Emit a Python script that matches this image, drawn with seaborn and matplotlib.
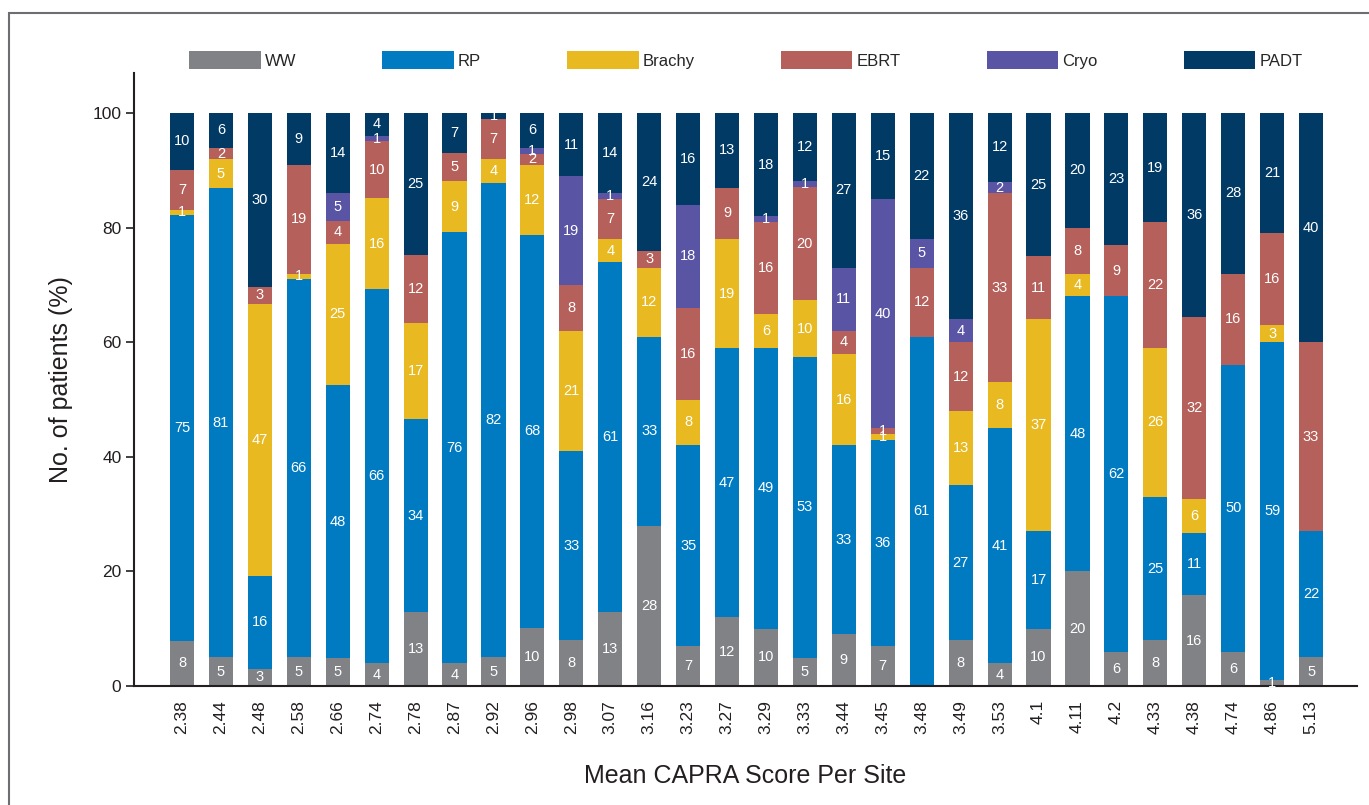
import matplotlib
matplotlib.use("Agg")
import matplotlib.pyplot as plt
from matplotlib.patches import Rectangle
import seaborn as sns
import numpy as np

# mean CAPRA score per site (x categories)
scores = ["2.38", "2.44", "2.48", "2.58", "2.66", "2.74", "2.78", "2.87", "2.92", "2.96",
          "2.98", "3.07", "3.16", "3.23", "3.27", "3.29", "3.33", "3.44", "3.45", "3.48",
          "3.49", "3.53", "4.1", "4.11", "4.2", "4.33", "4.38", "4.74", "4.86", "5.13"]

# percent of patients per treatment
ww     = [8, 5, 3, 5, 5, 4, 13, 4, 5, 10, 8, 13, 28, 7, 12, 10, 5, 9, 7, 0, 8, 4, 10, 20, 6, 8, 16, 6, 1, 5]
rp     = [75, 81, 16, 66, 48, 66, 34, 76, 82, 68, 33, 61, 33, 35, 47, 49, 53, 33, 36, 61, 27, 41, 17, 48, 62, 25, 11, 50, 59, 22]
brachy = [1, 5, 47, 1, 25, 16, 17, 9, 4, 12, 21, 4, 12, 8, 19, 6, 10, 16, 1, 0, 13, 8, 37, 4, 0, 26, 6, 0, 3, 0]
ebrt   = [7, 2, 3, 19, 4, 10, 12, 5, 7, 2, 8, 7, 3, 16, 9, 16, 20, 4, 1, 12, 12, 33, 11, 8, 9, 22, 32, 16, 16, 33]
cryo   = [0, 0, 0, 0, 5, 1, 0, 0, 0, 1, 19, 1, 0, 18, 0, 1, 1, 11, 40, 5, 4, 2, 0, 0, 0, 0, 0, 0, 0, 0]
padt   = [10, 6, 30, 9, 14, 4, 25, 7, 1, 6, 11, 14, 24, 16, 13, 18, 12, 27, 15, 22, 36, 12, 25, 20, 23, 19, 36, 28, 21, 40]

treatments = ["WW", "RP", "Brachy", "EBRT", "Cryo", "PADT"]
colors = ["#808285", "#007BC2", "#E8B921", "#B5605A", "#5A54A4", "#023A66"]

sns.set_style("white")
plt.rcParams["font.family"] = ["Liberation Sans", "DejaVu Sans"]

fig = plt.figure(figsize=(13.69, 8.05), dpi=100)
ax = fig.add_axes([134 / 1369, 119 / 805, 1223 / 1369, 613 / 805])

series = [ww, rp, brachy, ebrt, cryo, padt]
vals = np.array(series, dtype=float)
# bars are drawn to 100% (labels are rounded values)
heights = vals / vals.sum(axis=0) * 100

bottom = np.zeros(len(scores))
for name, h, v, c in zip(treatments, heights, series, colors):
    sns.barplot(x=scores, y=h, bottom=bottom, color=c, width=0.62, ax=ax,
                saturation=1, label=name, linewidth=0)
    labels = [str(x) if x > 0 else "" for x in v]
    ax.bar_label(ax.containers[-1], labels=labels, label_type="center",
                 color="white", fontsize=10.5)
    bottom = bottom + h

ax.set_xlim(-1.233, 30.18)
ax.set_ylim(0, 107)
ax.set_yticks([0, 20, 40, 60, 80, 100])
sns.despine(ax=ax)
for s in ["left", "bottom"]:
    ax.spines[s].set_color("#231F20")
    ax.spines[s].set_linewidth(1.5)
ax.tick_params(axis="y", length=6, width=1.2, color="#231F20", labelsize=12.5,
               labelcolor="#231F20", left=True, pad=3)
ax.tick_params(axis="x", length=0, labelsize=12.5, labelcolor="#231F20", pad=10,
               labelrotation=90)

ax.set_xlabel("Mean CAPRA Score Per Site", fontsize=18, color="#231F20", labelpad=22)
ax.set_ylabel("No. of patients (%)", fontsize=18, color="#231F20", labelpad=14)

handles, labs = ax.get_legend_handles_labels()
fig.legend(handles, labs, loc="center left", bbox_to_anchor=(189 / 1369, 1 - 60 / 805),
           ncol=6, frameon=False, borderpad=0, borderaxespad=0,
           handlelength=4.3, handleheight=1.3, handletextpad=0.25,
           columnspacing=5.15, prop={"size": 12})
if ax.get_legend():
    ax.get_legend().remove()

# thin frame around the figure (left and top edges visible)
fig.add_artist(Rectangle((9 / 1369, -0.5), 2, 1.5 - 13 / 805, transform=fig.transFigure,
                         fill=False, edgecolor="#6D6E71", linewidth=1.5))

fig.savefig("out.png", dpi=100)
